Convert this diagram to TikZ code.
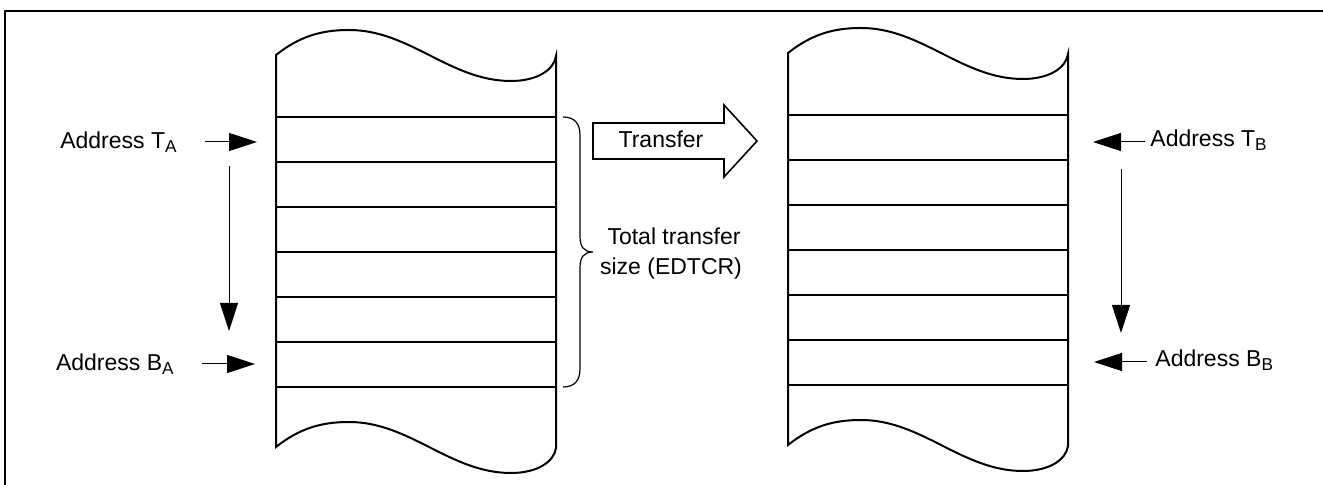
\documentclass[tikz,border=0pt]{standalone}
\usepackage{fontspec}
\setmainfont{Liberation Sans}
\usetikzlibrary{arrows.meta}
\newcommand{\lowsub}[1]{\raisebox{-1.6pt}{\fontsize{8.6}{9}\selectfont #1}}
\begin{document}
\begin{tikzpicture}[x=0.5pt,y=-0.5pt,
  box/.style={line width=1pt},
  frameline/.style={line width=1.3pt},
  thinarrow/.style={line width=0.5pt,-{Triangle[length=14pt,width=9pt]}},
  lbl/.style={font=\fontsize{11.5}{15}\selectfont, inner sep=0pt},
]
\useasboundingbox (0,0) rectangle (1323,485);
\draw[frameline] (5,485) -- (5,11) -- (1323,11);

% memory blocks
\foreach \dx/\dy in {0/0, 512/-2} {
  \begin{scope}[shift={(\dx,\dy)}]
    \draw[box] (276,55) .. controls (300,36) and (322,30) .. (349,30)
      .. controls (410,30) and (450,81) .. (511,81)
      .. controls (537,81) and (554,70) .. (556,56)
      -- (556,448) .. controls (554,462) and (537,473) .. (511,473)
      .. controls (450,473) and (410,422) .. (349,422)
      .. controls (322,422) and (300,428) .. (276,447) -- cycle;
    \foreach \yy in {117,162,207,252,297,342,387}
      \draw[box] (276,\yy) -- (556,\yy);
  \end{scope}
}

% brace
\draw[line width=0.6pt] (563,117) .. controls (574,117) and (580,123) .. (580,135)
  -- (580,236) .. controls (580,247) and (584,252) .. (593,252)
  .. controls (584,252) and (580,257) .. (580,268)
  -- (580,369) .. controls (580,381) and (574,387) .. (563,387);

% transfer arrow
\draw[line width=0.8pt] (593,123) -- (724,123) -- (724,105) -- (757,141)
  -- (724,177) -- (724,159) -- (593,159) -- cycle;
\node[lbl, anchor=base] (transfer) at (661,148) {Transfer};
\node[lbl, anchor=base] (tot1) at (674,245) {Total transfer};
\node[lbl, anchor=base] (tot2) at (671,275) {size (EDTCR)};

% left labels
\node[lbl, anchor=base east] (ta) at (177,149) {Address T\lowsub{A}};
\node[lbl, anchor=base east] (ba) at (174,371) {Address B\lowsub{A}};
\coordinate (ta0) at (205,142); \coordinate (ta1) at (257,142);
\coordinate (ba0) at (202,364); \coordinate (ba1) at (255,364);
\coordinate (va0) at (229,166); \coordinate (va1) at (229,331);
\draw[thinarrow] (ta0) -- (ta1);
\draw[thinarrow] (ba0) -- (ba1);
\draw[thinarrow] (va0) -- (va1);

% right labels
\node[lbl, anchor=base west] (tb) at (1150,147) {Address T\lowsub{B}};
\node[lbl, anchor=base west] (bb) at (1155,367) {Address B\lowsub{B}};
\coordinate (tb0) at (1145,142); \coordinate (tb1) at (1093,142);
\coordinate (bb0) at (1147,362); \coordinate (bb1) at (1094,362);
\coordinate (vb0) at (1121,169); \coordinate (vb1) at (1121,333);
\draw[thinarrow] (tb0) -- (tb1);
\draw[thinarrow] (bb0) -- (bb1);
\draw[thinarrow] (vb0) -- (vb1);
\end{tikzpicture}
\end{document}
